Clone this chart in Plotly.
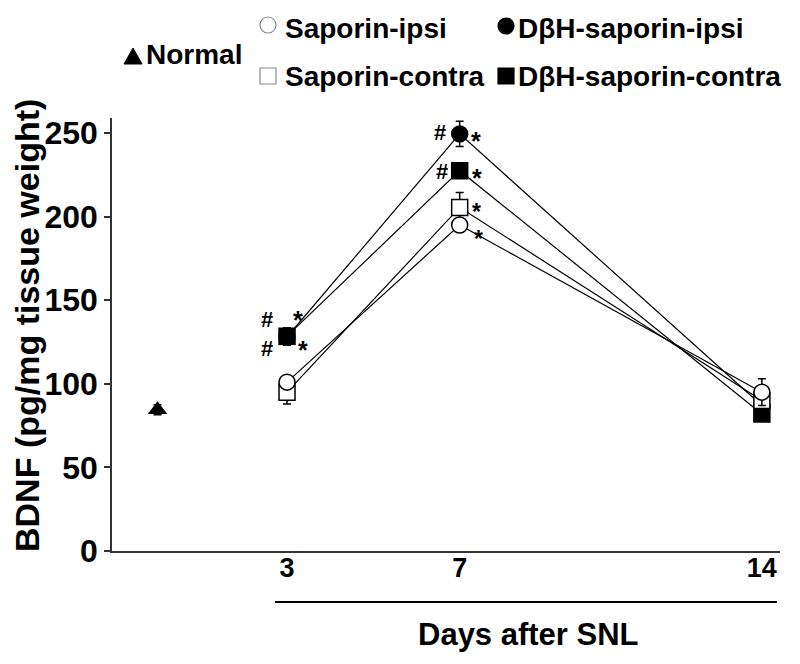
import plotly.graph_objects as go

days = [3, 7, 14]
normal_x = [0]
normal_y = [84.5]
normal_err = [3]

sap_ipsi = [101, 195, 95]
sap_ipsi_err = [4, 4, 8]
sap_contra = [95, 205.5, 90]
sap_contra_err = [7, 9, 5]
dbh_ipsi = [128, 249.5, 87]
dbh_ipsi_err = [5, 7.5, 4]
dbh_contra = [128.5, 227.5, 82]
dbh_contra_err = [5, 4, 4]

y_ticks = [0, 50, 100, 150, 200, 250]
x_ticks = [3, 7, 14]

# significance marks: (x, y, text, size)
sig_marks = [
    (2.536, 139.0, "#", 22), (3.254, 138.2, "*", 25),
    (2.536, 121.4, "#", 22), (3.370, 120.2, "*", 25),
    (6.542, 250.6, "#", 22), (7.376, 245.2, "*", 25),
    (6.589, 227.3, "#", 22), (7.399, 223.1, "*", 25),
    (7.399, 202.6, "*", 23), (7.445, 186.8, "*", 23),
]

FONT = "Liberation Sans, Arial, sans-serif"

# screen-to-paper helpers (plot area on screen: x 112..780, y 118..551)
def px(p):
    return (p - 112) / 668

def py(s):
    return (551 - s) / 433

fig = go.Figure()

def add_series(y, err, symbol, fill):
    fig.add_trace(go.Scatter(
        x=days, y=y, mode="lines+markers",
        line=dict(color="black", width=1.2),
        marker=dict(symbol=symbol, size=16, color=fill, line=dict(color="black", width=1.5)),
        error_y=dict(type="data", array=err, color="black", thickness=1.5, width=4),
        showlegend=False, cliponaxis=False,
    ))

add_series(dbh_ipsi, dbh_ipsi_err, "circle", "black")
add_series(dbh_contra, dbh_contra_err, "square", "black")
add_series(sap_contra, sap_contra_err, "square", "white")
add_series(sap_ipsi, sap_ipsi_err, "circle", "white")

fig.add_trace(go.Scatter(
    x=normal_x, y=normal_y, mode="markers",
    marker=dict(symbol="triangle-up", size=17, color="black"),
    error_y=dict(type="data", array=normal_err, color="black", thickness=1.5, width=4),
    showlegend=False, cliponaxis=False,
))

for x, y, t, size in sig_marks:
    fig.add_annotation(x=x, y=y, text="<b>" + t + "</b>", showarrow=False, height=18,
                       font=dict(family=FONT, size=size, color="black"))

# legend: symbols (as pixel-sized shapes) + text
legend_text = [
    (146, 55, "Normal"),
    (285, 28, "Saporin-ipsi"),
    (518, 28, "D\u03B2H-saporin-ipsi"),
    (285, 77, "Saporin-contra"),
    (518, 77, "D\u03B2H-saporin-contra"),
]
for x, y, t in legend_text:
    fig.add_annotation(xref="paper", yref="paper", x=px(x - 2), y=py(y), text="<b>" + t + "</b>",
                       showarrow=False, xanchor="left", yanchor="middle",
                       font=dict(family=FONT, size=28, color="black"))

legend_symbols = [
    ("circle", 268, 25, "white", "#888"),
    ("rect", 268, 76, "white", "#888"),
    ("circle", 506, 26, "black", "black"),
    ("rect", 506, 76, "black", "black"),
]
for kind, x, y, fill, lc in legend_symbols:
    fig.add_shape(type=kind, xref="paper", yref="paper", xsizemode="pixel", ysizemode="pixel",
                  xanchor=px(x), yanchor=py(y), x0=-8, x1=8, y0=-8, y1=8,
                  fillcolor=fill, line=dict(color=lc, width=1.2))
# triangle for Normal
fig.add_shape(type="path", xref="paper", yref="paper", xsizemode="pixel", ysizemode="pixel",
              xanchor=px(133), yanchor=py(56), path="M -9,-8 L 9,-8 L 0,8 Z",
              fillcolor="black", line=dict(color="black", width=1))

# underline for day labels
fig.add_shape(type="line", xref="paper", yref="paper",
              x0=px(275), x1=px(777), y0=py(602), y1=py(602), line=dict(color="black", width=2))

fig.add_annotation(xref="paper", yref="paper", x=px(528), y=py(634),
                   text="<b>Days after SNL</b>", showarrow=False, yanchor="middle",
                   font=dict(family=FONT, size=31, color="black"))

fig.add_annotation(xref="paper", yref="paper", x=px(27), y=py(326), textangle=-90,
                   text="<b>BDNF (pg/mg tissue weight)</b>", showarrow=False,
                   xanchor="center", yanchor="middle",
                   font=dict(family=FONT, size=34, color="black"))

fig.update_layout(
    width=800, height=664,
    margin=dict(l=104, r=28, t=110, b=121),
    plot_bgcolor="white", paper_bgcolor="white",
    font=dict(family=FONT, color="black"),
    xaxis=dict(range=[-1.054, 14.42], tickvals=x_ticks, ticktext=[f"<b>{v}</b>" for v in x_ticks],
               showgrid=False, zeroline=False, showline=True, linecolor="#333", linewidth=1.5,
               ticks="", tickfont=dict(size=27, family=FONT), ticklabelstandoff=-8),
    yaxis=dict(range=[0, 259], tickvals=y_ticks, ticktext=[f"<b>{v}</b>" for v in y_ticks],
               showgrid=False, zeroline=False, showline=True, linecolor="#333", linewidth=1.5,
               ticks="outside", ticklen=6, tickwidth=1.5, tickcolor="#333",
               tickfont=dict(size=32, family=FONT)),
)

fig.write_html("out.html")
